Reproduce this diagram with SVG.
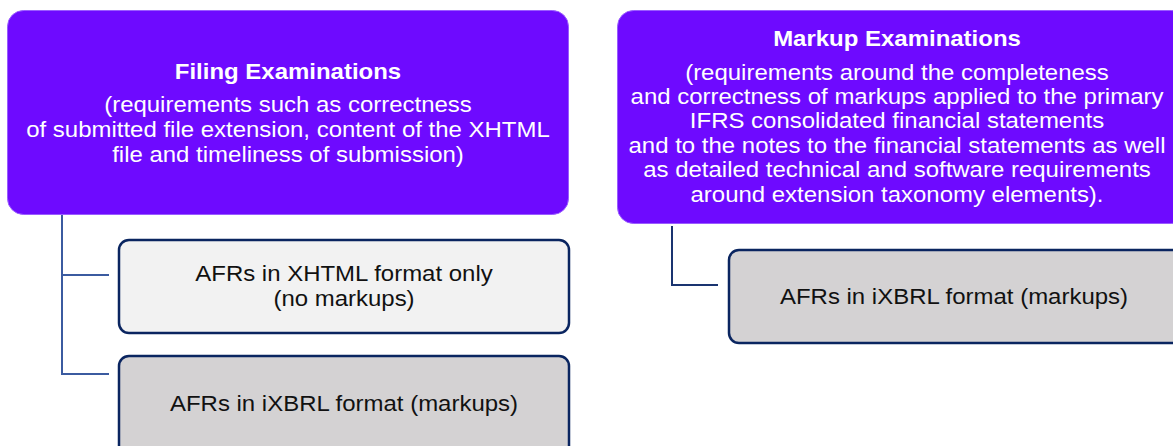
<svg xmlns="http://www.w3.org/2000/svg" width="1173" height="446" viewBox="0 0 1173 446">
<style>
.hdr{fill:#6e0aff;stroke:#9a5cff;stroke-width:1}
.t{font-family:"Liberation Sans",Arial,sans-serif;font-size:22px;text-anchor:middle}
.w{fill:#ffffff}
.b{font-weight:bold}
.k{fill:#111111}
.c1{fill:#f2f2f2;stroke:#0a2560;stroke-width:2.5}
.c2{fill:#d4d2d3;stroke:#0a2560;stroke-width:2.5}
.ln{fill:none;stroke-width:2}
</style>
<rect width="1173" height="446" fill="#ffffff"/>
<g id="connectors">
<path class="ln" stroke="#3b5ba0" d="M62 215 V374 H109 M62 275 H109"/>
<path class="ln" stroke="#1a3470" d="M672 226 V285 H718"/>
</g>
<g id="filing">
<rect class="hdr" x="7.5" y="10.5" width="561" height="204" rx="16"/>
<g transform="translate(288 0) scale(1.09 1)">
<text class="t w b" x="0" y="79">Filing Examinations</text>
<text class="t w" x="0" y="112">(requirements such as correctness</text>
<text class="t w" x="0" y="137">of submitted file extension, content of the XHTML</text>
<text class="t w" x="0" y="162">file and timeliness of submission)</text>
</g>
</g>
<g id="markup">
<rect class="hdr" x="617.5" y="10.5" width="570" height="213" rx="16"/>
<g transform="translate(897 0) scale(1.09 1)">
<text class="t w b" x="0" y="46">Markup Examinations</text>
<text class="t w" x="0" y="80">(requirements around the completeness</text>
<text class="t w" x="0" y="104">and correctness of markups applied to the primary</text>
<text class="t w" x="0" y="128">IFRS consolidated financial statements</text>
<text class="t w" x="0" y="153">and to the notes to the financial statements as well</text>
<text class="t w" x="0" y="177">as detailed technical and software requirements</text>
<text class="t w" x="0" y="202">around extension taxonomy elements).</text>
</g>
</g>
<g id="xhtml">
<rect class="c1" x="119" y="240" width="450" height="93" rx="10"/>
<g transform="translate(344 0) scale(1.09 1)">
<text class="t k" x="0" y="281">AFRs in XHTML format only</text>
<text class="t k" x="0" y="306">(no markups)</text>
</g>
</g>
<g id="ixbrl-left">
<rect class="c2" x="119" y="356" width="450" height="100" rx="10"/>
<g transform="translate(344 0) scale(1.09 1)">
<text class="t k" x="0" y="411">AFRs in iXBRL format (markups)</text>
</g>
</g>
<g id="ixbrl-right">
<rect class="c2" x="729" y="250" width="460" height="93" rx="10"/>
<g transform="translate(954 0) scale(1.09 1)">
<text class="t k" x="0" y="304">AFRs in iXBRL format (markups)</text>
</g>
</g>
</svg>
